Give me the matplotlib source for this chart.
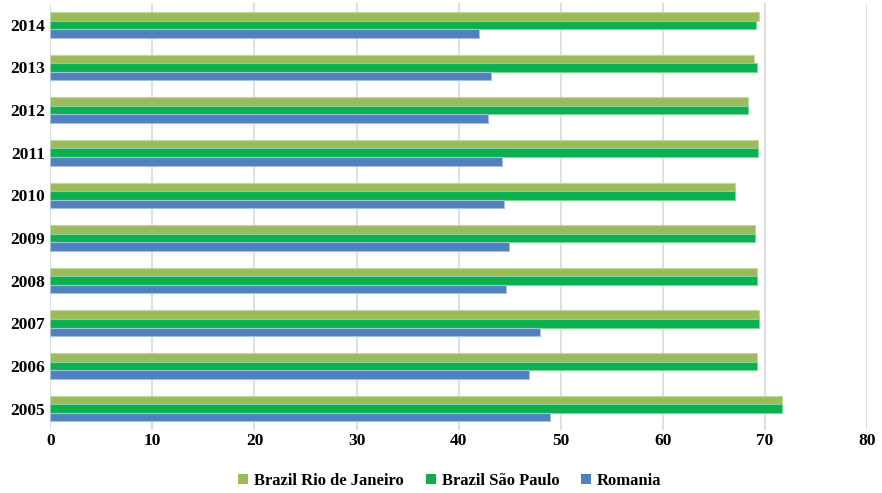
import numpy as np
import matplotlib.pyplot as plt
from matplotlib.patches import Patch

plt.rcParams["font.family"] = ["Liberation Serif", "DejaVu Serif"]
plt.rcParams["font.weight"] = "bold"

years = ["2005", "2006", "2007", "2008", "2009", "2010", "2011", "2012", "2013", "2014"]
rio = [71.7, 69.2, 69.4, 69.2, 69.0, 67.1, 69.3, 68.3, 68.9, 69.4]
sao_paulo = [71.7, 69.2, 69.4, 69.2, 69.0, 67.1, 69.3, 68.3, 69.2, 69.1]
romania = [48.9, 46.9, 48.0, 44.6, 44.9, 44.4, 44.2, 42.9, 43.2, 42.0]

labels = ["Brazil Rio de Janeiro", "Brazil São Paulo", "Romania"]
colors = ["#9BBB59", "#0BB04E", "#4F81BD"]
edges = ["#C3D69B", "#7FD3A0", "#A7C0DE"]

fig = plt.figure(figsize=(8.82, 4.93), dpi=100)
ax = fig.add_axes([0.057, 0.128, 0.926, 0.865])

y = np.arange(len(years))
h = 0.2
for vals, off, c, ec in zip([rio, sao_paulo, romania], [h, 0, -h], colors, edges):
    ax.barh(y + off, vals, height=h, color=c, edgecolor=ec, linewidth=0.8, zorder=3)

ax.set_xlim(0, 80)
ax.set_ylim(-0.5, len(years) - 0.5)
ax.set_xticks(range(0, 81, 10))
ax.set_yticks(y)
ax.set_yticklabels(years)
ax.tick_params(length=0, labelsize=12.5)
ax.tick_params(axis="x", pad=2)
ax.tick_params(axis="y", pad=4)
ax.xaxis.grid(True, color="#D9D9D9", linewidth=1.2, zorder=0)
for s in ax.spines.values():
    s.set_visible(False)

handles = [Patch(facecolor=c) for c in colors]
fig.legend(handles, labels, loc="lower center", bbox_to_anchor=(0.51, -0.022), ncol=3,
           frameon=False, fontsize=12, handlelength=0.6, handleheight=0.6,
           handletextpad=0.35, columnspacing=1.3)

fig.savefig("out.png", dpi=100)
